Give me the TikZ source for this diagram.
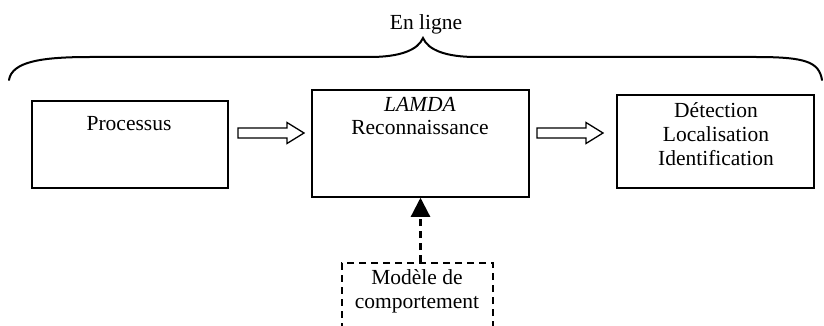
\documentclass[tikz,border=0pt]{standalone}
\usepackage{fontspec}
\setmainfont{Liberation Serif}
\usetikzlibrary{calc,arrows.meta}
\begin{document}
\begin{tikzpicture}[x=1pt,y=-1pt,
  box/.style={draw,line width=1.5pt,inner sep=0pt},
  dbox/.style={draw,line width=1.8pt,dash pattern=on 7pt off 5pt,inner sep=0pt},
  lbl/.style={anchor=base,inner sep=0pt,align=center,font=\fontsize{21.5}{23.7}\selectfont},
  hollow/.style={draw,line width=1.3pt,fill=white,line join=miter},
  brace/.style={draw,line width=2pt,line cap=round},
  dconn/.style={draw,line width=2.2pt,dash pattern=on 7pt off 5pt,-{Triangle[width=19pt,length=19pt]}}
  ]
\useasboundingbox (0,0) rectangle (824,326);
% boxes
\node[box, minimum width=196pt, minimum height=87pt] (proc) at (130,144.5) {};
\node[box, minimum width=217pt, minimum height=107pt] (lamda) at (420.5,143.5) {};
\node[box, minimum width=197pt, minimum height=93pt] (det) at (715.5,141.5) {};
\node[dbox, minimum width=151pt, minimum height=82pt] (model) at (417.5,304) {};
% texts (base anchor = baseline of the last line)
\node[lbl] (tproc) at (129,131) {Processus};
\node[lbl] (tlamda) at (420,135) {\textit{LAMDA}\\Reconnaissance};
\node[lbl] (tdet) at (716,165) {Détection\\Localisation\\Identification};
\node[lbl] (tmodel) at (417,308) {Modèle de\\comportement};
\node[lbl] (tligne) at (426,30) {En ligne};
% brace
\draw[brace] (9,80) .. controls (12,62) and (40,57) .. (90,57) -- (370,57)
  .. controls (400,57) and (418,50) .. (423,38)
  .. controls (428,50) and (446,57) .. (476,57) -- (756,57)
  .. controls (806,57) and (819,62) .. (822,80);
% hollow arrows
\coordinate (a1s) at (238,133); \coordinate (a1e) at (304,133);
\coordinate (a2s) at (537,133); \coordinate (a2e) at (603,133);
\foreach \s/\e in {a1s/a1e,a2s/a2e}{
  \draw[hollow] ($(\s)+(0,-5)$) -- ($(\e)+(-17,-5)$) -- ($(\e)+(-17,-10.5)$) -- (\e)
    -- ($(\e)+(-17,10.5)$) -- ($(\e)+(-17,5)$) -- ($(\s)+(0,5)$) -- cycle;
}
% dashed arrow
\draw[dconn] (model.north -| lamda.south) -- (lamda.south);
\end{tikzpicture}
\end{document}
